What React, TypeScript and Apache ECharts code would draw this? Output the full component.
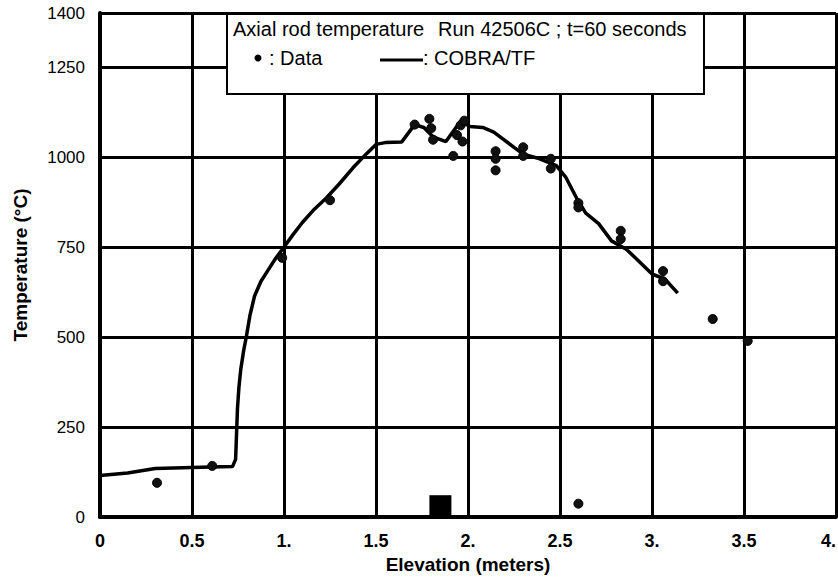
import React, { useEffect, useRef } from "react";
import * as echarts from "echarts";

// Axis ticks
const xTickValues = [0, 0.5, 1, 1.5, 2, 2.5, 3, 3.5, 4];
const xTickLabels = ["0", "0.5", "1.", "1.5", "2.", "2.5", "3.", "3.5", "4."];
const yMin = 0;
const yMax = 1400;
const yInterval = 250;

// COBRA/TF prediction (line)
const cobraX = [0, 0.15, 0.3, 0.45, 0.6, 0.72, 0.737, 0.742, 0.747, 0.755, 0.765, 0.78, 0.795, 0.815, 0.84, 0.875, 0.91, 0.95, 1.0, 1.05, 1.1, 1.165, 1.23, 1.3, 1.375, 1.45, 1.5, 1.55, 1.64, 1.71, 1.76, 1.81, 1.88, 1.96, 2.01, 2.08, 2.14, 2.25, 2.3, 2.39, 2.48, 2.53, 2.59, 2.64, 2.71, 2.78, 2.86, 2.93, 3.0, 3.07, 3.14];
const cobraY = [115, 122, 135, 137, 139, 140, 160, 230, 300, 360, 410, 460, 500, 560, 614, 655, 683, 715, 750, 785, 818, 855, 886, 925, 970, 1010, 1035, 1040, 1042, 1090, 1082, 1056, 1043, 1100, 1085, 1082, 1069, 1027, 1008, 995, 976, 945, 886, 844, 815, 767, 744, 710, 675, 661, 622];

// Measured data (dots)
const dataX = [0.31, 0.61, 0.99, 1.25, 1.71, 1.79, 1.8, 1.81, 1.92, 1.94, 1.96, 1.97, 1.98, 2.15, 2.15, 2.15, 2.3, 2.3, 2.45, 2.45, 2.6, 2.6, 2.83, 2.83, 3.06, 3.06, 3.33, 3.52, 2.6];
const dataY = [95, 142, 720, 880, 1090, 1106, 1080, 1048, 1003, 1061, 1088, 1043, 1101, 1016, 995, 963, 1027, 1003, 995, 968, 872, 860, 795, 772, 683, 655, 550, 489, 37];

// Scan artifact (black square near the axis)
const artifactX = [1.85];
const artifactY = [30];

// Texts
const yAxisTitle = "Temperature (°C)";
const xAxisTitle = "Elevation (meters)";
const boxTitleLeft = "Axial rod temperature";
const boxTitleRight = "Run 42506C ; t=60 seconds";
const dataLabel = ": Data";
const modelLabel = ": COBRA/TF";

const FONT = "'Liberation Sans', Arial, Helvetica, sans-serif";

export default function App() {
  const ref = useRef<HTMLDivElement>(null);

  useEffect(() => {
    if (!ref.current) return;
    const chart = echarts.init(ref.current, undefined, { renderer: "svg" });
    const lineData = cobraX.map((x, i) => [x, cobraY[i]]);
    const dotData = dataX.map((x, i) => [x, dataY[i]]);
    const artData = artifactX.map((x, i) => [x, artifactY[i]]);

    chart.setOption({
      animation: false,
      backgroundColor: "#ffffff",
      textStyle: { fontFamily: FONT },
      grid: {
        left: 100,
        right: 2,
        top: 13,
        bottom: 64,
        containLabel: false,
        outerBoundsMode: "none",
      },
      xAxis: {
        type: "value",
        min: 0,
        max: 4,
        interval: 0.5,
        name: xAxisTitle,
        nameLocation: "middle",
        nameGap: 35,
        nameTextStyle: { fontFamily: FONT, fontWeight: "bold", fontSize: 19, color: "#000" },
        axisLine: { show: true, onZero: false, lineStyle: { color: "#000", width: 4 } },
        axisTick: { show: false },
        axisLabel: {
          margin: 15,
          fontFamily: FONT,
          fontWeight: "bold",
          fontSize: 18,
          color: "#000",
          alignMaxLabel: "right",
          formatter: (v: number) => {
            const idx = xTickValues.findIndex((t) => Math.abs(t - v) < 1e-9);
            return idx >= 0 ? xTickLabels[idx] : String(v);
          },
        },
        splitLine: { show: true, lineStyle: { color: "#000", width: 3 } },
      },
      yAxis: {
        type: "value",
        min: yMin,
        max: yMax,
        interval: yInterval,
        name: yAxisTitle,
        nameLocation: "middle",
        nameGap: 70,
        nameRotate: 90,
        nameTextStyle: { fontFamily: FONT, fontWeight: "bold", fontSize: 19, color: "#000" },
        axisLine: { show: true, onZero: false, lineStyle: { color: "#000", width: 4 } },
        axisTick: { show: false },
        axisLabel: {
          margin: 15,
          fontFamily: FONT,
          fontSize: 17,
          color: "#000",
          formatter: (v: number) => String(v),
        },
        splitLine: { show: true, lineStyle: { color: "#000", width: 3 } },
      },
      series: [
        {
          type: "line",
          name: "COBRA/TF",
          data: lineData,
          showSymbol: false,
          smooth: false,
          lineStyle: { color: "#000", width: 3.5 },
          z: 3,
        },
        {
          type: "scatter",
          name: "Data",
          data: dotData,
          symbol: "circle",
          symbolSize: 9,
          itemStyle: { color: "#111", borderColor: "#000", borderWidth: 1, opacity: 1 },
          z: 4,
        },
        {
          type: "scatter",
          name: "artifact",
          data: artData,
          symbol: "rect",
          symbolSize: [22, 22],
          itemStyle: { color: "#000", opacity: 1 },
          z: 4,
        },
      ],
      graphic: [
        {
          type: "rect",
          shape: { x: 227, y: 14, width: 477, height: 80 },
          style: { fill: "#fff", stroke: "#000", lineWidth: 2 },
          z: 10,
        },
        {
          type: "text",
          x: 233,
          y: 29,
          style: { text: boxTitleLeft, fontFamily: FONT, fontSize: 20, fill: "#000", verticalAlign: "middle", align: "left" },
          z: 11,
        },
        {
          type: "text",
          x: 438,
          y: 29,
          style: { text: boxTitleRight, fontFamily: FONT, fontSize: 20, fill: "#000", verticalAlign: "middle", align: "left" },
          z: 11,
        },
        {
          type: "circle",
          shape: { cx: 258, cy: 58, r: 3.5 },
          style: { fill: "#000" },
          z: 11,
        },
        {
          type: "text",
          x: 269,
          y: 58,
          style: { text: dataLabel, fontFamily: FONT, fontSize: 20, fill: "#000", verticalAlign: "middle", align: "left" },
          z: 11,
        },
        {
          type: "line",
          shape: { x1: 380, y1: 60, x2: 423, y2: 60 },
          style: { stroke: "#000", lineWidth: 3 },
          z: 11,
        },
        {
          type: "text",
          x: 423,
          y: 58,
          style: { text: modelLabel, fontFamily: FONT, fontSize: 20, fill: "#000", verticalAlign: "middle", align: "left" },
          z: 11,
        },
      ],
    });

    return () => chart.dispose();
  }, []);

  return (
    <div
      ref={ref}
      style={{ position: "absolute", left: 0, top: 0, width: 838, height: 581, background: "#fff" }}
    />
  );
}
